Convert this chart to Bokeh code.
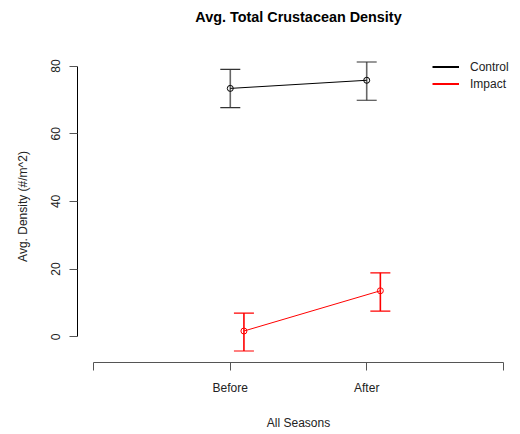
from bokeh.plotting import figure
from bokeh.models import (ColumnDataSource, FixedTicker, Whisker, TeeHead,
                          Legend, LegendItem, Range1d, Title)
from bokeh.embed import file_html
from bokeh.resources import INLINE

# Group means and error-bar limits (#/m^2)
seasons = ["Before", "After"]
control_x = [1.0, 2.0]
impact_x = [1.1, 2.1]
control_mean = [73.4, 75.8]
control_upper = [79.0, 81.2]
control_lower = [67.7, 69.9]
impact_mean = [1.7, 13.6]
impact_upper = [7.0, 18.9]
impact_lower = [-4.2, 7.6]
y_ticks = [0, 20, 40, 60, 80]
x_ticks = [0, 1, 2, 3]
title_text = "Avg. Total Crustacean Density"

FONT = "Liberation Sans"

p = figure(width=520, height=434, output_backend="svg", toolbar_location=None,
           x_range=Range1d(-0.12, 3.12), y_range=Range1d(-7.6, 84.6),
           min_border_left=77, min_border_right=1, min_border_top=50,
           min_border_bottom=72, title=title_text)
p.outline_line_color = None
p.xgrid.visible = False
p.ygrid.visible = False
p.background_fill_color = "white"
p.border_fill_color = "white"

p.title.align = "center"
p.title.text_font = FONT
p.title.text_font_size = "14.4px"
p.title.text_font_style = "bold"
p.title.text_color = "black"
p.title.standoff = 12

# blank band between the title and the plotting region
p.add_layout(Title(text=" ", text_font=FONT, text_font_size="14.4px", standoff=2), "above")

ctrl = ColumnDataSource(dict(x=control_x, m=control_mean, up=control_upper, lo=control_lower))
imp = ColumnDataSource(dict(x=impact_x, m=impact_mean, up=impact_upper, lo=impact_lower))

# error bars
for src, col, cap in ((ctrl, "#666666", "#333333"), (imp, "red", "red")):
    w = Whisker(source=src, base="x", upper="up", lower="lo", dimension="height",
                line_color=col, line_width=1.6,
                upper_head=TeeHead(size=20, line_color=cap, line_width=1.2),
                lower_head=TeeHead(size=20, line_color=cap, line_width=1.2))
    p.add_layout(w)

p.line("x", "m", source=ctrl, line_color="black", line_width=1)
p.scatter("x", "m", source=ctrl, marker="circle", size=6, fill_color=None,
          line_color="black", line_width=1)
p.line("x", "m", source=imp, line_color="red", line_width=1)
p.scatter("x", "m", source=imp, marker="circle", size=6, fill_color=None,
          line_color="red", line_width=1)

# axes in base-graphics style
xa = p.xaxis[0]
xa.ticker = FixedTicker(ticks=x_ticks)
xa.major_label_overrides = {0: "", 1: seasons[0], 2: seasons[1], 3: ""}
xa.bounds = (0, 3)
xa.axis_line_color = "#555555"
xa.major_tick_line_color = "#555555"
xa.minor_tick_line_color = None
xa.major_tick_in = 0
xa.major_tick_out = 8
xa.major_label_standoff = 10
xa.major_label_text_font = FONT
xa.major_label_text_font_size = "12px"
xa.major_label_text_color = "#222222"
xa.axis_label = "All Seasons"
xa.axis_label_text_font = FONT
xa.axis_label_text_font_size = "12px"
xa.axis_label_text_font_style = "normal"
xa.axis_label_text_color = "#222222"
xa.axis_label_standoff = 18

ya = p.yaxis[0]
ya.ticker = FixedTicker(ticks=y_ticks)
ya.bounds = (0, 80)
ya.axis_line_color = "black"
ya.major_tick_line_color = "#555555"
ya.minor_tick_line_color = None
ya.major_tick_in = 0
ya.major_tick_out = 8
ya.major_label_orientation = "vertical"
ya.major_label_standoff = 9
ya.major_label_text_font = FONT
ya.major_label_text_font_size = "12px"
ya.major_label_text_color = "#222222"
ya.axis_label = "Avg. Density (#/m^2)"
ya.axis_label_text_font = FONT
ya.axis_label_text_font_size = "12px"
ya.axis_label_text_font_style = "normal"
ya.axis_label_text_color = "#222222"
ya.axis_label_standoff = 19

# legend keys (off-screen proxies with heavier strokes)
nan = float("nan")
key_c = p.line([nan], [nan], line_color="black", line_width=2)
key_i = p.line([nan], [nan], line_color="red", line_width=2)
legend = Legend(items=[LegendItem(label="Control", renderers=[key_c]),
                       LegendItem(label="Impact", renderers=[key_i])],
                location=(355, 270), orientation="vertical",
                background_fill_alpha=0, border_line_alpha=0,
                padding=0, margin=0, spacing=0,
                glyph_width=27, glyph_height=17, label_height=17,
                label_standoff=11, label_text_font=FONT,
                label_text_font_size="12px", label_text_color="#222222")
p.add_layout(legend)

open("out.html", "w").write(file_html(p, INLINE))
